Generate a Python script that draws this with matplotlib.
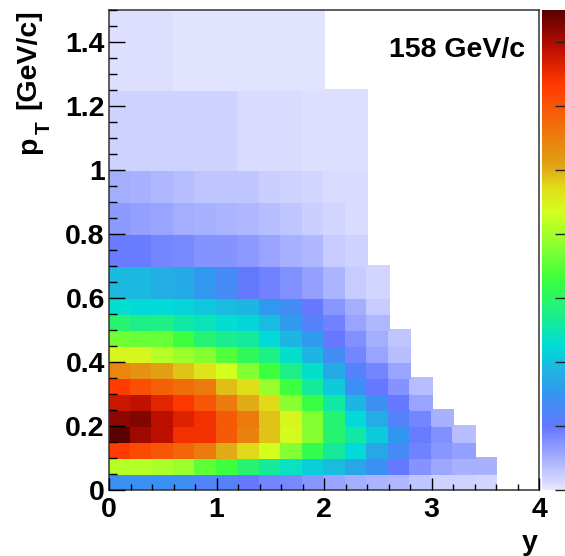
import numpy as np
import matplotlib
matplotlib.use('Agg')
import matplotlib.pyplot as plt
from matplotlib.colors import LinearSegmentedColormap

plt.rcParams['font.family'] = ['Liberation Sans', 'DejaVu Sans']

SAVEFIG = 'out.png'
W, H = 565, 556

y_edges = [0.2 * i for i in range(21)]
pt_edges = [0, .05, .1, .15, .2, .25, .3, .35, .4, .45, .5, .55, .6, .7, .8, .9, 1.0, 1.25, 1.5]

# Cell values as a fraction of the colour scale, rows from low pT upward
pt_000 = [.19, .19, .19, .185, .16, .155, .13, .115, .11, .095, .08, .07, .06, .055, .04, .025, .025, .02]
pt_005 = [.55, .55, .54, .525, .47, .44, .39, .35, .32, .285, .26, .23, .19, .13, .10, .075, .065, .065]
pt_010 = [.84, .82, .80, .77, .74, .67, .63, .58, .50, .42, .35, .30, .23, .175, .12, .095, .085]
pt_015 = [1.0, .945, .92, .86, .86, .79, .73, .65, .585, .505, .39, .34, .28, .20, .125, .105, .05]
pt_020 = [.96, .965, .92, .885, .86, .79, .74, .65, .59, .50, .39, .30, .24, .155, .115, .065]
pt_025 = [.905, .915, .88, .85, .80, .74, .67, .63, .51, .43, .34, .25, .185, .13, .08]
pt_030 = [.84, .81, .785, .76, .74, .655, .625, .52, .44, .35, .28, .19, .13, .10, .05]
pt_035 = [.72, .70, .68, .65, .62, .58, .50, .44, .365, .31, .235, .155, .115, .08]
pt_040 = [.59, .59, .55, .525, .505, .46, .41, .37, .31, .25, .18, .115, .08, .05]
pt_045 = [.485, .48, .48, .44, .39, .36, .35, .30, .25, .21, .13, .105, .07, .04]
pt_050 = [.39, .365, .37, .34, .325, .305, .29, .26, .21, .155, .12, .08, .055]
pt_055 = [.305, .30, .30, .29, .275, .26, .25, .205, .18, .13, .095, .07, .035]
pt_060 = [.255, .255, .24, .235, .205, .175, .135, .12, .105, .085, .06, .035, .02]
pt_070 = [.125, .125, .115, .11, .10, .10, .09, .08, .065, .055, .035, .025]
pt_080 = [.09, .085, .08, .07, .065, .06, .055, .05, .04, .03, .02, .015]
pt_090 = [.07, .065, .055, .05, .04, .04, .04, .03, .025, .02, .015, .012]
pt_100 = [.025, .025, .025, .025, .025, .025, .012, .012, .012, .008, .008, .008]
pt_125 = [.008, .008, .010, .006, .006, .006, .006, .006, .006, .006]

rows = [pt_000, pt_005, pt_010, pt_015, pt_020, pt_025, pt_030, pt_035, pt_040,
        pt_045, pt_050, pt_055, pt_060, pt_070, pt_080, pt_090, pt_100, pt_125]

cmap_stops = [0, .13, .20, .25, .30, .37, .44, .52, .58, .63, .68, .76, .85, .92, 1.0]
cmap_colors = ['#e6e6ff', '#6478ff', '#3296f0', '#1eb4e1', '#00dcd7', '#1ef082', '#3cff3c',
               '#96ff2d', '#d2ff1e', '#e1dc19', '#e1a014', '#f06e0a', '#ff3700', '#be0f00', '#5a0000']

x_major = [0, 1, 2, 3, 4]
y_major = [0, .2, .4, .6, .8, 1, 1.2, 1.4]
y_labels = ['0', '0.2', '0.4', '0.6', '0.8', '1', '1.2', '1.4']
scale_ticks = [i / 7.5 for i in range(8)]


def main():

    grid = np.full((len(rows), 20), np.nan)
    for i, row in enumerate(rows):
        grid[i, :len(row)] = row

    cmap = LinearSegmentedColormap.from_list('root', list(zip(cmap_stops, cmap_colors)), N=256)

    fig = plt.figure(figsize=(W / 100, H / 100), dpi=100)
    ax = fig.add_axes([109 / W, 1 - 490 / H, 430 / W, 480 / H])
    mesh = ax.pcolormesh(y_edges, pt_edges, grid, cmap=cmap, vmin=0, vmax=1,
                         edgecolors='face', linewidth=0.2, zorder=1)
    ax.set_xlim(0, 4)
    ax.set_ylim(0, 1.5)
    ax.set_axisbelow(False)

    ax.set_xticks(x_major)
    ax.set_xticks(np.arange(0, 4.01, 0.2), minor=True)
    ax.set_yticks(y_major)
    ax.set_yticks(np.arange(0, 1.501, 0.05), minor=True)
    ax.set_yticklabels(y_labels)
    ax.tick_params(axis='x', which='major', direction='in', length=8.6, width=1, pad=5, labelsize=20.5)
    ax.tick_params(axis='x', which='minor', direction='in', length=4.3, width=1)
    ax.tick_params(axis='y', which='major', direction='in', length=11.5, width=1, pad=3, labelsize=20.5)
    ax.tick_params(axis='y', which='minor', direction='in', length=5.8, width=1)
    for lab in ax.get_xticklabels() + ax.get_yticklabels():
        lab.set_fontweight('bold')
    for spine in ax.spines.values():
        spine.set_linewidth(1.1)
        spine.set_color('#333333')

    fig.text(525 / W, 1 - 50 / H, '158 GeV/c', ha='right', va='center', fontsize=20.5, fontweight='bold')
    fig.text(530 / W, 1 - 543 / H, 'y', ha='center', va='center', fontsize=20.5, fontweight='bold')

    # Axis title in pieces, the subscript T is large in the reference
    fig.text(28 / W, 1 - 59 / H, '[GeV/c]', rotation=90, ha='center', va='center', fontsize=20.5, fontweight='bold')
    fig.text(44 / W, 1 - 128 / H, 'T', rotation=90, ha='center', va='center', fontsize=15, fontweight='bold')
    fig.text(29 / W, 1 - 145 / H, 'p', rotation=90, ha='center', va='center', fontsize=20.5, fontweight='bold')

    cax = fig.add_axes([542 / W, 1 - 490 / H, 23 / W, 480 / H])
    cbar = fig.colorbar(mesh, cax=cax)
    cbar.outline.set_visible(False)
    cbar.set_ticks(scale_ticks)
    cbar.set_ticklabels([])
    cax.tick_params(axis='y', which='major', direction='in', length=7.2, width=1, color='#222222', right=True)

    plt.savefig(SAVEFIG, dpi=100)
    plt.close()


if __name__ == '__main__':
    main()
